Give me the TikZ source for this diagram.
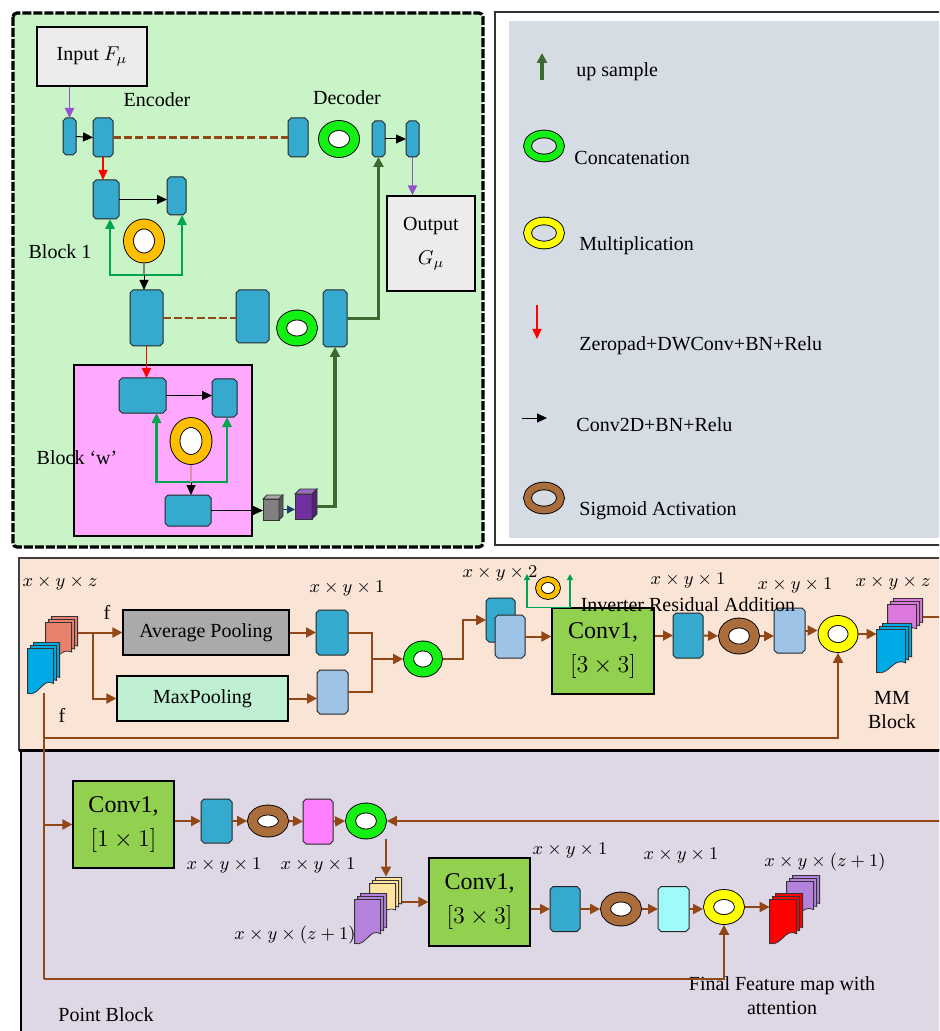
\documentclass[tikz,border=0pt]{standalone}
\usepackage{fontspec}
\setmainfont{Liberation Serif}
\usetikzlibrary{shapes.geometric, arrows.meta, calc}

\definecolor{pgreen}{RGB}{200,244,200}
\definecolor{lgray}{RGB}{214,220,228}
\definecolor{ppeach}{RGB}{250,228,214}
\definecolor{plilac}{RGB}{222,216,230}
\definecolor{wpink}{RGB}{255,168,255}
\definecolor{blkblue}{RGB}{54,170,206}
\definecolor{blklight}{RGB}{157,195,230}
\definecolor{blkpink}{RGB}{255,128,255}
\definecolor{blkcyan}{RGB}{160,250,250}
\definecolor{ringgreen}{RGB}{20,240,20}
\definecolor{ringorange}{RGB}{255,190,0}
\definecolor{ringyellow}{RGB}{255,255,0}
\definecolor{ringbrown}{RGB}{170,110,60}
\definecolor{upgreen}{RGB}{60,105,50}
\definecolor{skipgreen}{RGB}{0,165,80}
\definecolor{brn}{RGB}{145,72,22}
\definecolor{purp}{RGB}{150,80,205}
\definecolor{convgreen}{RGB}{146,208,80}
\definecolor{avggray}{RGB}{170,170,170}
\definecolor{maxmint}{RGB}{192,240,210}
\definecolor{boxgray}{RGB}{236,236,236}
\definecolor{fmblue}{RGB}{0,170,230}
\definecolor{fmsalmon}{RGB}{232,130,110}
\definecolor{fmpurple}{RGB}{180,130,220}
\definecolor{fmviolet}{RGB}{220,120,220}
\definecolor{fmyellow}{RGB}{255,228,160}
\definecolor{cubepurple}{RGB}{112,48,160}
\definecolor{darkblue}{RGB}{30,60,110}

% chamfered block drawn on a named node: node, colour
\newcommand{\chamf}[2]{%
  \filldraw[fill=#2, draw=black!85, line width=0.5pt]
    ($(#1.north west)+(3,0)$) -- ($(#1.north east)+(-3,0)$) -- ($(#1.north east)+(0,3)$)
    -- ($(#1.south east)+(0,-3)$) -- ($(#1.south east)+(-3,0)$) -- ($(#1.south west)+(3,0)$)
    -- ($(#1.south west)+(0,-3)$) -- ($(#1.north west)+(0,3)$) -- cycle;
}
% stack of feature maps: node, colour, sheet width, sheet height (px)
\newcommand{\fmstack}[4]{%
  \foreach \k in {2,1,0}
    \draw[fill=#2, draw=black!80, line width=0.4pt, shift={(#1.south west)}, shift={(3*\k,-3*\k)}]
      (0,0) -- (0,-#4) -- (#3,-#4) -- (#3,-0.22*#4)
      .. controls (0.55*#3,-0.36*#4) and (0.45*#3,0.08*#4) .. (0,0) -- cycle;
}
% top and side faces of a small cube: node, colour, depth (px)
\newcommand{\cubefaces}[3]{%
  \draw[fill=#2!70!white, draw=black!80, line width=0.4pt] (#1.north west) -- ++(#3,-#3) -- ($(#1.north east)+(#3,-#3)$) -- (#1.north east) -- cycle;
  \draw[fill=#2!70!black, draw=black!80, line width=0.4pt] (#1.north east) -- ++(#3,-#3) -- ($(#1.south east)+(#3,-#3)$) -- (#1.south east) -- cycle;
}

\begin{document}
\begin{tikzpicture}[x=0.5pt,y=-0.5pt,
  sz/.style 2 args={minimum width=#1*0.5pt,minimum height=#2*0.5pt},
  blk/.style={rectangle,inner sep=0pt,outer sep=0pt,sz={30}{45}},
  ring/.style={ellipse,draw=black,line width=0.45pt,double=#1,double distance=4.5pt,fill=white,inner sep=0pt,outer sep=2.7pt,minimum width=15.5pt,minimum height=13pt},
  legring/.style={ring=#1,fill=lgray,double distance=3.4pt,minimum width=16.5pt,minimum height=12pt},
  box/.style={rectangle,draw=black,line width=0.6pt,fill=#1,align=center,inner sep=1pt},
  conv/.style={box=convgreen,font=\large},
  fmap/.style={inner sep=0pt},
  cube/.style={rectangle,draw=black!80,line width=0.4pt,fill=#1,inner sep=0pt,outer sep=0pt},
  lbl/.style={inner sep=0pt},
  dim/.style={font=\small,inner sep=0pt},
  barr/.style={-{Triangle[length=5pt,width=4.5pt]},line width=0.5pt},
  rarr/.style={-{Triangle[length=5pt,width=4.5pt]},red,line width=0.8pt},
  parr/.style={-{Triangle[length=5pt,width=4.5pt]},purp,line width=0.9pt},
  skipline/.style={brn,line width=1.4pt,dash pattern=on 4pt off 1.6pt},
  gskip/.style={skipgreen,line width=1.4pt,{Triangle[length=5pt,width=4.5pt]}-{Triangle[length=5pt,width=4.5pt]}},
  ira/.style={skipgreen,line width=0.7pt,{Triangle[length=3pt,width=3pt]}-{Triangle[length=3pt,width=3pt]}},
  upline/.style={upgreen,line width=1.7pt,-{Triangle[length=5pt,width=5pt]}},
  brl/.style={brn,line width=1pt},
  brarr/.style={brl,-{Triangle[length=5pt,width=5pt]}}
]
\useasboundingbox (0,0) rectangle (939,1031);
\clip (0,0) rectangle (939,1031);

% panels
\draw[fill=pgreen,line width=1.6pt,dash pattern=on 4.5pt off 1pt,rounded corners=2pt] (13,13) rectangle (483,547);
\draw[black!80,line width=0.6pt] (495,12) rectangle (950,545);
\fill[lgray] (509,21) rectangle (950,538);
\draw[fill=ppeach,draw=black!75,line width=0.8pt] (19,558) rectangle (950,750);
\draw[fill=plilac,draw=black,line width=0.8pt] (21,750) rectangle (950,1040);
\draw[line width=1.5pt] (19,750) -- (950,750);
\draw[fill=wpink,line width=0.6pt] (74,365) rectangle (252,536);

% encoder / decoder
\node[box=boxgray,sz={110}{59}] (inp) at (92,56.5) {Input $F_\mu$};
\node[box=boxgray,sz={88}{95}] (out) at (431,243.5) {Output\\[5pt]$G_\mu$};
\node[blk,sz={13}{37}] (e1) at (69.5,136.5) {};
\node[blk,sz={20}{39}] (e2) at (103,137.5) {};
\node[blk,sz={20}{39}] (d1) at (298,137.5) {};
\node[ring=ringgreen,minimum height=13.5pt] (gr1) at (339,139) {};
\node[blk,sz={13}{36}] (d2) at (378.5,139) {};
\node[blk,sz={13}{36}] (d3) at (412.5,139) {};
\node[blk,sz={26}{39}] (b1a) at (106,199.5) {};
\node[blk,sz={19}{38}] (b1b) at (176.5,196) {};
\node[ring=ringorange,minimum height=17pt] (or1) at (144,241) {};
\node[blk,sz={33}{56}] (m1) at (146.5,318) {};
\node[blk,sz={33}{53}] (m2) at (252.5,316.5) {};
\node[ring=ringgreen] (gr2) at (297,328) {};
\node[blk,sz={24}{57}] (m3) at (335,318.5) {};
\node[blk,sz={47}{35}] (w1) at (142.5,395.5) {};
\node[blk,sz={25}{38}] (w2) at (224.5,398) {};
\node[ring=ringorange,minimum width=16pt,minimum height=18.5pt] (or2) at (191,441) {};
\node[blk,sz={46}{31}] (w3) at (188,510.5) {};
\foreach \n in {e1,e2,d1,d2,d3,b1a,b1b,m1,m2,m3,w1,w2,w3} \chamf{\n}{blkblue};
\node[cube=gray,sz={16}{21}] (gc) at (271,509.5) {};
\cubefaces{gc}{gray}{4}
\node[cube=cubepurple,sz={17}{25}] (pc) at (303.5,506.5) {};
\cubefaces{pc}{cubepurple}{5}

\node[lbl] (enc) at (157,100) {Encoder};
\node[lbl] (dec) at (347,98) {Decoder};
\node[lbl] (blk1) at (60,252) {Block 1};
\node[lbl] (blkw) at (77,458) {Block ‘w’};

\draw[parr] (e1 |- inp.south) -- (e1.north);
\draw[barr] (e1.east) -- (e2.west);
\draw[skipline] (e2.east) -- (d1.west);
\draw[barr] (d2.east) -- (d3.west);
\draw[parr] (d3.south) -- (d3.south |- out.north);
\draw[rarr] (e2.south) -- (e2.south |- b1a.north);
\draw[barr] (b1a.east) -- (b1a.east -| b1b.west);
\coordinate (j1) at (144,275);
\draw[gskip] ([xshift=2pt]b1a.south) -- ++(0,56) -| ([xshift=2.75pt]b1b.south);
\draw[black!50,line width=0.8pt] (or1.south) -- (j1);
\draw[barr] (j1) -- (j1 |- m1.north);
\draw[skipline] (m1.east) -- (m1.east -| m2.west);
\draw[upline] (m3.east) -| (d2.south);
\draw[rarr] (m1.south) -- (m1.south |- w1.north);
\draw[barr] (w1.east) -- (w1.east -| w2.west);
\coordinate (j2) at (191,482);
\draw[gskip] ([xshift=7pt]w1.south) -- ++(0,69) -| ([xshift=1.25pt]w2.south);
\draw[purple!45,line width=0.8pt] (or2.south) -- (j2);
\draw[barr] (j2) -- (j2 |- w3.north);
\draw[barr] (w3.east) -- (w3.east -| gc.west);
\draw[darkblue,-{Triangle[length=4pt,width=4pt]},line width=0.6pt] ([xshift=2pt]gc.east) -- (gc.east -| pc.west);
\draw[upline] ([xshift=2.5pt]pc.east) -| (m3.south);

% legend
\coordinate (lgu) at (542,80);
\draw[upline] (lgu) -- ++(0,-27);
\node[lbl,anchor=west] (lgut) at (576,72) {up sample};
\node[legring=ringgreen] (lgc) at (544,146) {};
\node[lbl,anchor=west] (lgct) at (574,158) {Concatenation};
\node[legring=ringyellow] (lgm) at (544,233) {};
\node[lbl,anchor=west] (lgmt) at (579,246) {Multiplication};
\coordinate (lgr) at (537,305);
\draw[rarr] (lgr) -- ++(0,34);
\node[lbl,anchor=west] (lgrt) at (579,346) {Zeropad+DWConv+BN+Relu};
\coordinate (lgb) at (522,418);
\draw[barr] (lgb) -- ++(25,0);
\node[lbl,anchor=west] (lgbt) at (576,425) {Conv2D+BN+Relu};
\node[legring=ringbrown] (lgs) at (544,498) {};
\node[lbl,anchor=west] (lgst) at (579,511) {Sigmoid Activation};

% MM block
\node[fmap,sz={32}{44}] (fsA) at (62,638) {};
\node[fmap,sz={32}{51}] (fsB) at (44,667.5) {};
\fmstack{fsA}{fmsalmon}{26}{38}
\fmstack{fsB}{fmblue}{26}{45}
\node[box=avggray,sz={166}{45}] (avg) at (206,632.5) {Average Pooling};
\node[box=maxmint,sz={171}{45}] (mxp) at (202.5,698.5) {MaxPooling};
\node[blk,sz={32}{45}] (a1) at (332,632.5) {};
\node[blk,sz={31}{44}] (mx1) at (332.5,692) {};
\node[ring=ringgreen,minimum width=14.5pt] (gr3) at (423,659) {};
\node[blk,sz={29}{44}] (x2a) at (500.5,620) {};
\node[blk,sz={30}{43}] (x2b) at (510,636.5) {};
\node[ring=ringorange,minimum width=9.5pt,minimum height=8.5pt,double distance=2.4pt,outer sep=1.5pt] (iro) at (548,588) {};
\node[conv,sz={102}{86}] (cv2) at (603,651) {Conv1,\\[3pt]$\bigl[3\times3\bigr]$};
\node[blk,sz={30}{45}] (c1) at (688,635.5) {};
\node[ring=ringbrown] (br1) at (739,636) {};
\node[blk,sz={31}{45}] (c2) at (789.5,630.5) {};
\node[ring=ringyellow,minimum width=15pt,minimum height=13.5pt] (ye1) at (838,634) {};
\foreach \n/\c in {a1/blkblue,mx1/blklight,x2a/blkblue,x2b/blklight,c1/blkblue,c2/blklight} \chamf{\n}{\c};
\node[fmap,sz={35}{37}] (mmA) at (905.5,616.5) {};
\node[fmap,sz={35}{49}] (mmB) at (894.5,647.5) {};
\fmstack{mmA}{fmviolet}{29}{31}
\fmstack{mmB}{fmblue}{29}{43}

\node[dim] (dxyz) at (60,583) {$x\times y\times z$};
\node[lbl] (f1) at (107,612) {f};
\node[lbl] (f2) at (62,715) {f};
\node[dim] (da1) at (347,588) {$x\times y\times 1$};
\node[dim] (dx2) at (500,573) {$x\times y\times 2$};
\node[lbl] (inv) at (688,605) {Inverter Residual Addition};
\node[dim] (dc1) at (688,580) {$x\times y\times 1$};
\node[dim] (dc2) at (795,585) {$x\times y\times 1$};
\node[dim] (dmm) at (893,583) {$x\times y\times z$};
\node[lbl,align=center] (mmt) at (892,710) {MM\\Block};

\coordinate (sp) at (93,632.5);
\draw[brl] (fsA.east |- sp) -- (sp);
\draw[brarr] (sp) -- (avg.west);
\draw[brarr] (sp) |- (mxp.west);
\draw[brarr] (avg.east) -- (a1.west);
\draw[brarr] (mxp.east) -- (mxp.east -| mx1.west);
\coordinate (jm) at (372,659);
\draw[brl] (a1.east) -| (jm) |- (mx1.east);
\draw[brarr] (jm) -- (gr3.west);
\draw[brarr] (gr3.east) -- ++(20,0) |- (x2a.west);
\coordinate (ir1) at (527,574);
\coordinate (ir2) at (570,574);
\draw[ira] (ir1) -- (ir1 |- cv2.north) -- (ir2 |- cv2.north) -- (ir2);
\draw[brarr] (x2b.east) -- (x2b.east -| cv2.west);
\draw[brarr] (c1.west -| cv2.east) -- (c1.west);
\draw[brarr] (c1.east) -- (br1.west);
\draw[brarr] (br1.east) -- (br1.east -| c2.west);
\draw[brarr] (c2.east) -- (c2.east -| ye1.west);
\draw[brarr] (ye1.east) -- (ye1.east -| mmB.west);
\draw[brl] (mmA.east) -- ++(25,0);

% point block
\node[conv,sz={101}{87}] (cv1) at (123.5,824.5) {Conv1,\\[3pt]$\bigl[1\times1\bigr]$};
\node[blk,sz={31}{44}] (p1) at (216.5,821) {};
\node[ring=ringbrown,minimum height=11pt] (br2) at (268,821) {};
\node[blk,sz={30}{45}] (pk) at (318,821.5) {};
\node[ring=ringgreen] (gr4) at (366,821) {};
\node[fmap,sz={32}{40}] (ys) at (386,897) {};
\node[fmap,sz={32}{50}] (ps) at (371,918) {};
\fmstack{ys}{fmyellow}{26}{34}
\fmstack{ps}{fmpurple}{26}{44}
\node[conv,sz={101}{88}] (cv3) at (479.5,902) {Conv1,\\[3pt]$\bigl[3\times3\bigr]$};
\node[blk,sz={30}{45}] (q1) at (565,909) {};
\node[ring=ringbrown,minimum height=12pt] (br3) at (621,909) {};
\node[blk,sz={31}{45}] (cy) at (673.5,909) {};
\node[ring=ringyellow,minimum height=12.5pt] (ye2) at (724,907) {};
\foreach \n/\c in {p1/blkblue,pk/blkpink,q1/blkblue,cy/blkcyan} \chamf{\n}{\c};
\node[fmap,sz={33}{42}] (os) at (803.5,896) {};
\node[fmap,sz={33}{50}] (rs) at (786.5,918) {};
\fmstack{os}{fmpurple}{27}{36}
\fmstack{rs}{red}{27}{44}

\node[dim] (dp1) at (224,865) {$x\times y\times 1$};
\node[dim] (dpk) at (318,865) {$x\times y\times 1$};
\node[dim] (dps) at (295,935) {$x\times y\times(z+1)$};
\node[dim] (dq1) at (570,850) {$x\times y\times 1$};
\node[dim] (dcy) at (681,855) {$x\times y\times 1$};
\node[dim] (drs) at (825,862) {$x\times y\times(z+1)$};
\node[lbl,align=center] (fin) at (782,996) {Final Feature map with\\attention};
\node[lbl] (pb) at (106,1015) {Point Block};

\coordinate (l1) at (44,738);
\coordinate (lb) at (44,979);
\coordinate (rt) at (945,821);
\draw[brl] (fsB.south) -- (lb);
\draw[brarr] (l1) -| (ye1.south);
\draw[brarr] (cv1.west -| fsB.south) -- (cv1.west);
\draw[brarr] (lb) -| (ye2.south);
\draw[brarr] (cv1.east |- p1.west) -- (p1.west);
\draw[brarr] (p1.east) -- (br2.west);
\draw[brarr] (br2.east) -- (pk.west);
\draw[brarr] (pk.east) -- (gr4.west);
\draw[brarr] (rt) -- (gr4.east);
\draw[brarr] (gr4.south -| ys.north) -- (ys.north);
\draw[brarr] (cv3.west -| ys.east) -- (cv3.west);
\draw[brarr] (cv3.east |- q1.west) -- (q1.west);
\draw[brarr] (q1.east) -- (br3.west);
\draw[brarr] (br3.east) -- (cy.west);
\draw[brarr] (cy.east) -- (cy.east -| ye2.west);
\draw[brarr] (ye2.east) -- (ye2.east -| rs.west);
\end{tikzpicture}
\end{document}
